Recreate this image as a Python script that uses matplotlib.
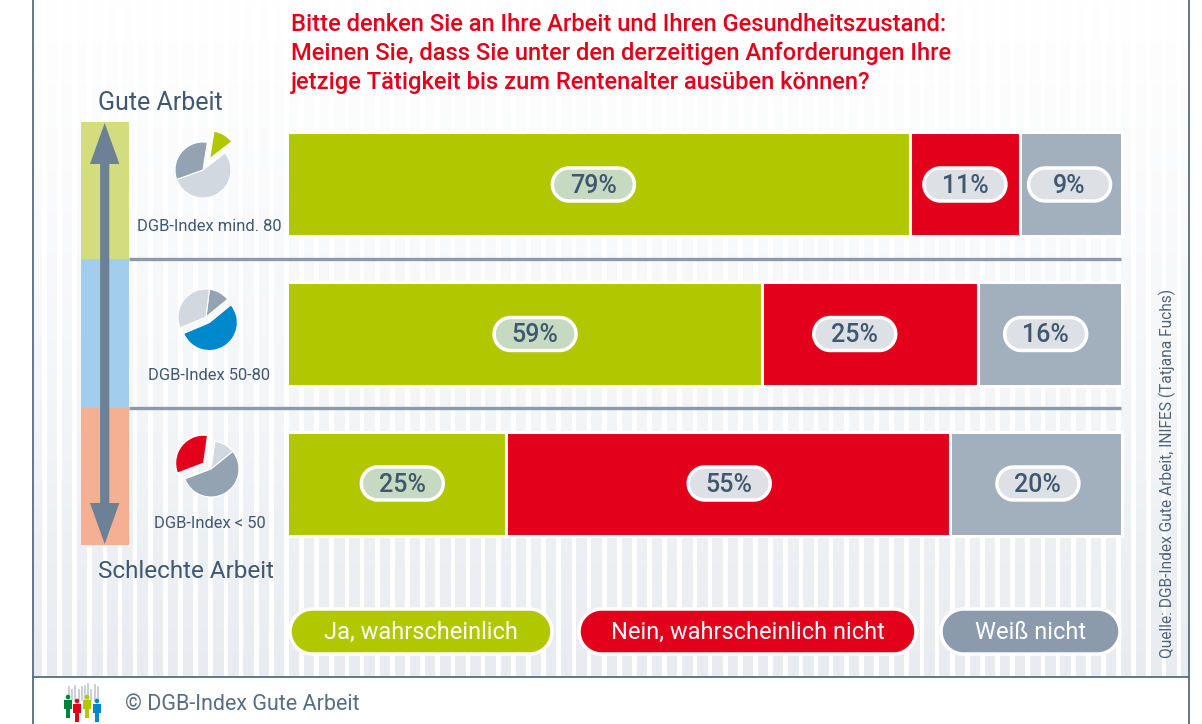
#! /bin/python3

import numpy as np
import matplotlib
matplotlib.use('Agg')
import matplotlib.pyplot as plt
from matplotlib.colors import LinearSegmentedColormap
from matplotlib.patches import Polygon, Rectangle, Circle

plt.rcParams['font.family'] = ['Roboto', 'DejaVu Sans']

W, H = 1202, 724

title = ["Bitte denken Sie an Ihre Arbeit und Ihren Gesundheitszustand:",
         "Meinen Sie, dass Sie unter den derzeitigen Anforderungen Ihre",
         "jetzige Tätigkeit bis zum Rentenalter ausüben können?"]
rows = ["DGB-Index mind. 80", "DGB-Index 50-80", "DGB-Index < 50"]
legend_names = ["Ja, wahrscheinlich", "Nein, wahrscheinlich nicht", "Weiß nicht"]

# printed percentages
ja_label = [79, 59, 25]
nein_label = [11, 25, 55]
weiss_label = [9, 16, 20]
# drawn bar lengths, share of the full bar as measured in the picture
ja_len = [74.7, 56.9, 26.3]
nein_len = [13.1, 25.9, 53.2]
weiss_len = [12.2, 17.2, 20.5]

# share of employees per index class
pie_shares = [[12, 55, 33], [12, 54, 33], [12, 55, 33]]

GREEN = '#b1c800'
RED = '#e2001a'
GREY = '#a2afbc'
DARK = '#3f586f'
BLUE = '#0088cc'
PIE_DARK = '#93a3b2'
PIE_LIGHT = '#d1d8e0'


def fy(y):
    return H - y


fig = plt.figure(figsize=(W / 100, H / 100), dpi=100, facecolor='white')

# background: gradient and white stripes
bg = fig.add_axes([0, 0, 1, 1], zorder=0)
bg.axis('off')
cm = LinearSegmentedColormap.from_list('bg', ['#ffffff', '#f6f7f9', '#e8ecf0'])
bg.imshow(np.linspace(0, 1, 256).reshape(-1, 1), cmap=cm, aspect='auto',
          extent=(33, 1189, fy(677), fy(0)), origin='upper', zorder=1)
bg.set_xlim(0, W)
bg.set_ylim(0, H)
for x in np.arange(42, 1189, 15.13):
    bg.add_patch(Rectangle((x, fy(677)), 4.7, 677, fc='white', ec='none', zorder=2))

# frame
for x in (33, 1189):
    bg.plot([x, x], [0, H], color='#566d82', lw=1.3, zorder=3)
bg.plot([33, 1189], [fy(677), fy(677)], color='#566d82', lw=1.3, zorder=3)

# bars
BX0, BX1, BY0, BY1 = 286.5, 1121.5, 131.5, 535.5
bar_ax = fig.add_axes([BX0 / W, fy(BY1) / H, (BX1 - BX0) / W, (BY1 - BY0) / H], zorder=1)
bar_h = 104 / 150
bar_ax.set_xlim(0, 100)
bar_ax.set_ylim(2 + bar_h / 2, -bar_h / 2)
bar_ax.axis('off')
y = np.arange(3)
ja = np.array(ja_len)
nein = np.array(nein_len)
weiss = np.array(weiss_len)
kw = dict(height=bar_h, edgecolor='white', linewidth=2.2, clip_on=False)
bar_ax.barh(y, ja, color=GREEN, **kw)
bar_ax.barh(y, nein, left=ja, color=RED, **kw)
bar_ax.barh(y, weiss, left=ja + nein, color=GREY, **kw)

# everything else on top, in pixel coordinates
ov = fig.add_axes([0, 0, 1, 1], zorder=2)
ov.patch.set_alpha(0)


def pill(x0, x1, y0, y1, fc, lw=2.5):
    r = (y1 - y0) / 2
    cy = fy((y0 + y1) / 2)
    a = np.linspace(-np.pi / 2, np.pi / 2, 30)
    pts = list(zip(x1 - r + r * np.cos(a), cy + r * np.sin(a)))
    pts += list(zip(x0 + r - r * np.cos(a), cy - r * np.sin(a)))
    ov.add_patch(Polygon(pts, closed=True, fc=fc, ec='white', lw=lw, zorder=4))


# value pills, offsets from the segment centre in px
offsets = [[-5, 0, -1], [11, -15, -4], [6, 1, 2]]
px = (BX1 - BX0) / 100
for i in range(3):
    lefts = [0, ja[i], ja[i] + nein[i]]
    lens = [ja[i], nein[i], weiss[i]]
    labels = [ja_label[i], nein_label[i], weiss_label[i]]
    fills = ['#c5dac0', '#dde0e5', '#dde0e5']
    cy = 184.5 + 149.5 * i
    for l, w, v, fc, dx in zip(lefts, lens, labels, fills, offsets[i]):
        cx = BX0 + (l + w / 2) * px + dx
        pill(cx - 41, cx + 41, cy - 16.5, cy + 16.5, fc)
        ov.text(cx, fy(cy + 1.5), f"{v}%", ha='center', va='center', fontsize=18,
                fontweight='medium', color=DARK, zorder=5)

# left scale
bands = [(122, 259, '#d4dc80'), (259, 408, '#a3cdec'), (408, 545, '#f5b094')]
for y0, y1, c in bands:
    ov.add_patch(Rectangle((81, fy(y1)), 48, y1 - y0, fc=c, ec='none', zorder=2))
ax_c = 104.7
arrow = [(ax_c, 123), (ax_c + 14.7, 164), (ax_c + 4.6, 164), (ax_c + 4.6, 503),
         (ax_c + 14.7, 503), (ax_c, 544), (ax_c - 14.7, 503), (ax_c - 4.6, 503),
         (ax_c - 4.6, 164), (ax_c - 14.7, 164)]
ov.add_patch(Polygon([(a, fy(b)) for a, b in arrow], fc='#6d8196', ec='none', zorder=3))

# separators
for sy in (259, 408):
    ov.plot([129, 1121], [fy(sy), fy(sy)], color='#8a9bac', lw=2.4, zorder=2,
            solid_capstyle='butt')

# pies, explode is in px here because of the radius
pie_cfg = [
    dict(center=(203, 170), colors=[GREEN, PIE_LIGHT, PIE_DARK], explode=[13, 0, 0], start=81),
    dict(center=(206, 317), colors=[PIE_DARK, BLUE, PIE_LIGHT], explode=[0, 6.5, 0], start=83),
    dict(center=(211, 469), colors=[PIE_LIGHT, PIE_DARK, RED], explode=[0, 0, 9.4], start=82),
]
for share, c in zip(pie_shares, pie_cfg):
    cx, cy = c['center']
    wedges, _ = ov.pie(share, colors=c['colors'], explode=c['explode'], startangle=c['start'],
                       counterclock=False, radius=28, center=(cx, fy(cy)), frame=True,
                       wedgeprops=dict(edgecolor='white', linewidth=0.8))
    for wd in wedges:
        wd.set_zorder(3)

ov.set_xlim(0, W)
ov.set_ylim(0, H)
ov.set_aspect('auto')
ov.axis('off')

# texts
for i, line in enumerate(title):
    ov.text(291, fy(24.5 + 29 * i), line, color=RED, fontsize=17.1, fontweight='medium',
            ha='left', va='center', zorder=5)
ov.text(98, fy(103), "Gute Arbeit", color=DARK, fontsize=18, va='center')
ov.text(98, fy(571.5), "Schlechte Arbeit", color=DARK, fontsize=17.5, va='center')
for name, cx, cy in zip(rows, (209.5, 209.5, 209.5), (226.5, 375.5, 523.5)):
    ov.text(cx, fy(cy), name, color=DARK, fontsize=11.9, ha='center', va='center')

# legend
leg_x = [(290, 552), (579, 916), (941, 1120)]
for name, (x0, x1), c in zip(legend_names, leg_x, (GREEN, RED, '#8c9bab')):
    pill(x0, x1, 609, 654, c, lw=2.5)
    ov.text((x0 + x1) / 2, fy(632.5), name, color='white', fontsize=17, ha='center', va='center',
            zorder=5)

ov.text(1167, fy(473), "Quelle: DGB-Index Gute Arbeit, INIFES (Tatjana Fuchs)", rotation=90,
        color='#4d6478', fontsize=11.2, ha='center', va='center')
ov.text(125, fy(704.5), "© DGB-Index Gute Arbeit", color='#566d82', fontsize=15.5,
        ha='left', va='center')

# small logo in the footer
for x, top in zip(np.arange(69, 99, 3.2), (687, 690, 686, 690, 687, 686, 684, 690, 685, 687)):
    ov.plot([x, x], [fy(top), fy(700)], color='#c5ccd6', lw=1.3, zorder=2)
people = [(68, 695, '#00843d'), (77, 699, RED), (87, 695, GREEN), (97, 699, BLUE)]
for x, top, c in people:
    ov.add_patch(Circle((x, fy(top + 2)), 2.3, fc=c, ec='none', zorder=3))
    ov.add_patch(Polygon([(x - 4, fy(top + 5)), (x + 4, fy(top + 5)), (x + 4, fy(top + 14)),
                          (x + 2, fy(top + 14)), (x + 2, fy(top + 23)), (x - 2, fy(top + 23)),
                          (x - 2, fy(top + 14)), (x - 4, fy(top + 14))],
                         fc=c, ec='none', zorder=3))

fig.savefig('out.png', dpi=100)
